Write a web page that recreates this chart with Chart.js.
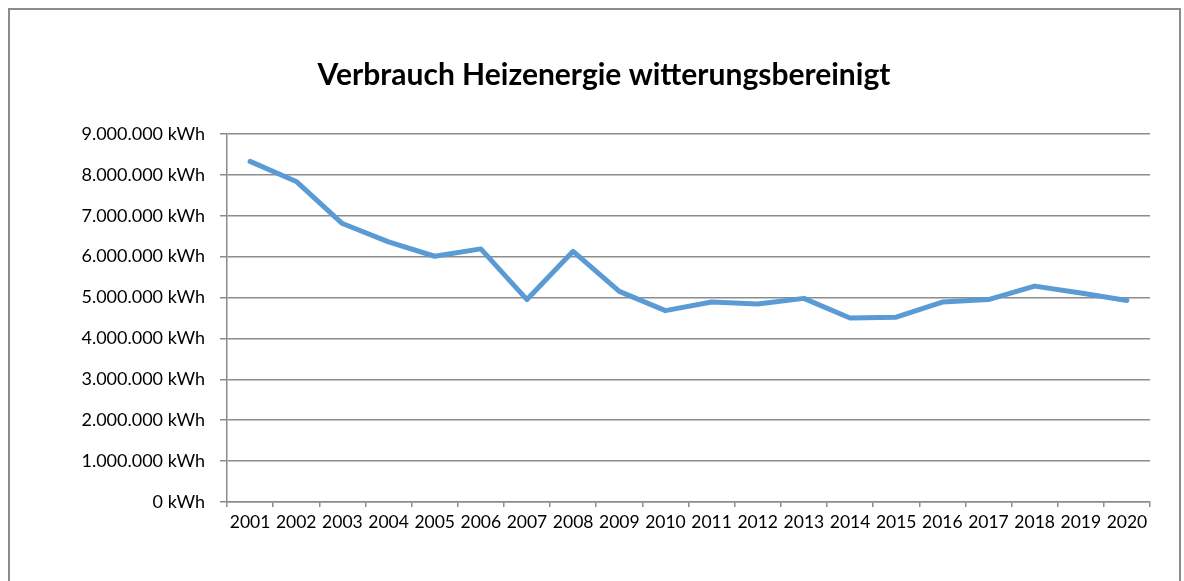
<!DOCTYPE html>
<html>
<head>
<meta charset="utf-8">
<script src="https://cdn.jsdelivr.net/npm/chart.js@4/dist/chart.umd.min.js"></script>
<style>
  html, body { margin: 0; padding: 0; background: #fff; overflow: hidden; }
  #frame {
    position: absolute; left: 8px; top: 8px; width: 1173px; height: 640px;
    border: 2px solid #8c8c8c; box-sizing: border-box;
  }
  #wrap { position: absolute; left: 0; top: 0; width: 1184px; height: 581px; }
</style>
</head>
<body>
<div id="frame"></div>
<div id="wrap"><canvas id="heatChart"></canvas></div>
<script>
const years = ['2001', '2002', '2003', '2004', '2005', '2006', '2007', '2008', '2009', '2010',
               '2011', '2012', '2013', '2014', '2015', '2016', '2017', '2018', '2019', '2020'];
const consumption = [8330000, 7840000, 6810000, 6360000, 6010000, 6190000, 4950000, 6130000, 5150000, 4680000,
                     4890000, 4840000, 4980000, 4500000, 4520000, 4890000, 4950000, 5280000, 5110000, 4930000];
const yMax = 9000000;
const yStep = 1000000;

function formatKwh(v) {
    return String(Math.round(v)).replace(/\B(?=(\d{3})+(?!\d))/g, '.') + ' kWh';
}

const font = 'Lato, "Open Sans", sans-serif';
const gridColor = '#8c8c8c';

const ctx = document.getElementById('heatChart').getContext('2d');

new Chart(ctx, {
    type: 'line',
    data: {
        labels: years,
        datasets: [{
            data: consumption,
            borderColor: '#5b9bd5',
            borderWidth: 5,
            borderCapStyle: 'round',
            borderJoinStyle: 'round',
            tension: 0,
            fill: false,
            pointRadius: 0,
            pointHoverRadius: 0
        }]
    },
    options: {
        responsive: true,
        maintainAspectRatio: false,
        animation: false,
        layout: {
            padding: { left: 58, right: 34, top: 0, bottom: 0 }
        },
        scales: {
            x: {
                offset: true,
                grid: {
                    offset: true,
                    drawOnChartArea: false,
                    drawTicks: true,
                    tickLength: 5,
                    color: gridColor,
                    lineWidth: 1.5
                },
                border: { color: gridColor, width: 1.5 },
                ticks: {
                    color: '#000',
                    font: { family: font, size: 17.5 },
                    padding: 5,
                    maxRotation: 0,
                    autoSkip: false
                },
                afterFit: (scale) => { scale.height = 79; }
            },
            y: {
                min: 0,
                max: yMax,
                grid: {
                    color: gridColor,
                    lineWidth: 1.5,
                    drawTicks: true,
                    tickLength: 7
                },
                border: { color: gridColor, width: 1.5 },
                ticks: {
                    stepSize: yStep,
                    color: '#000',
                    font: { family: font, size: 18 },
                    padding: 15,
                    callback: (v) => formatKwh(v)
                },
                afterFit: (scale) => { scale.width = 169; }
            }
        },
        plugins: {
            legend: { display: false },
            tooltip: { enabled: false },
            title: {
                display: true,
                text: 'Verbrauch Heizenergie witterungsbereinigt',
                color: '#000',
                font: { family: font, size: 30, weight: 'bold' },
                padding: { top: 57, bottom: 41 }
            }
        }
    }
});
</script>
</body>
</html>
